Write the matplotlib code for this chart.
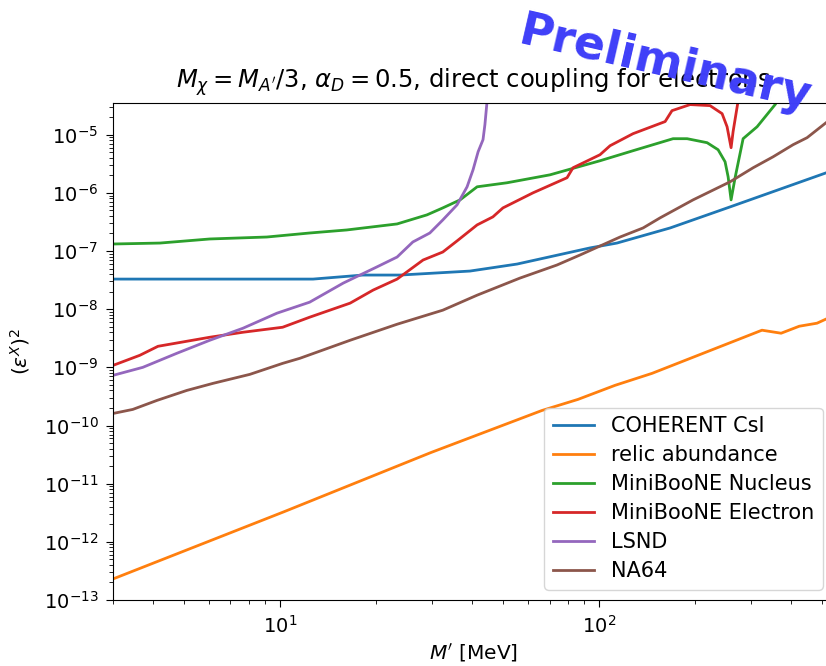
import numpy as np
import matplotlib
matplotlib.use("Agg")
import matplotlib.pyplot as plt

plt.rcParams['font.size'] = 14
plt.rcParams['xtick.major.size'] = 5
plt.rcParams['ytick.major.size'] = 5
plt.rcParams['xtick.minor.size'] = 3
plt.rcParams['ytick.minor.size'] = 3
plt.rcParams['xtick.major.pad'] = 5.5
plt.rcParams['ytick.major.pad'] = 5.5

# mass grid points (MeV) and (eps^X)^2 limits for each experiment
coherent_m = [3.0, 12.7, 18.2, 23.8, 39.4, 55.4, 93.7, 113.8, 167, 257.6, 515]
coherent_eps = [3.29e-8, 3.29e-8, 3.86e-8, 3.86e-8, 4.52e-8, 5.97e-8, 1.13e-7,
                1.37e-7, 2.49e-7, 5.74e-7, 2.21e-6]

relic_m = [3.0, 10.3, 29.7, 66.2, 85.9, 112.2, 146.6, 324, 372, 424, 482, 530]
relic_eps = [2.30e-13, 3.29e-12, 3.42e-11, 1.81e-10, 2.81e-10, 4.90e-10, 7.88e-10,
             4.35e-9, 3.86e-9, 5.09e-9, 5.74e-9, 7.28e-9]

mb_nucleus_m = [3.0, 4.21, 6.03, 9.10, 12.4, 16.2, 23.3, 28.9, 32.4, 36.7, 41.5, 51.5,
                70.2, 100.7, 127.8, 170.6, 188.8, 218.1, 236.1, 248.3, 253.8, 259.3,
                266.9, 282.8, 312.9, 356.2]
mb_nucleus_eps = [1.32e-7, 1.37e-7, 1.61e-7, 1.74e-7, 2.04e-7, 2.30e-7, 2.92e-7,
                  4.18e-7, 5.51e-7, 7.57e-7, 1.27e-6, 1.49e-6, 2.04e-6, 3.56e-6,
                  5.30e-6, 8.53e-6, 8.53e-6, 7.28e-6, 5.51e-6, 3.42e-6, 1.89e-6,
                  7.57e-7, 1.82e-6, 8.53e-6, 1.37e-5, 3.29e-5]

mb_electron_m = [3.0, 3.64, 4.15, 6.03, 7.66, 10.2, 12.4, 16.6, 19.6, 23.3, 28.1, 32.4,
                 35.9, 41.5, 46.5, 50.0, 62.1, 79.4, 82.9, 100.7, 108.3, 127.8, 161.1,
                 169.3, 192.9, 222.8, 243.0, 251.9, 259.3, 263.1, 275.0]
mb_electron_eps = [1.08e-9, 1.61e-9, 2.30e-9, 3.29e-9, 4.01e-9, 4.89e-9, 7.28e-9,
                   1.27e-8, 2.13e-8, 3.29e-8, 7.00e-8, 9.61e-8, 1.49e-7, 2.81e-7,
                   3.86e-7, 5.51e-7, 1.0e-6, 1.82e-6, 2.70e-6, 4.52e-6, 6.46e-6,
                   1.04e-5, 1.68e-5, 2.59e-5, 3.29e-5, 3.16e-5, 2.30e-5, 1.37e-5,
                   5.97e-6, 1.13e-5, 5.0e-5]

lsnd_m = [3.0, 3.72, 4.75, 6.03, 7.66, 9.79, 12.4, 15.8, 20.1, 23.3, 26.1, 29.5, 32.4,
          35.9, 38.6, 40.3, 41.8, 43.3, 43.9, 44.8]
lsnd_eps = [7.28e-10, 1.0e-9, 1.74e-9, 2.92e-9, 4.70e-9, 8.53e-9, 1.32e-8, 2.81e-8,
            5.30e-8, 7.88e-8, 1.43e-7, 2.04e-7, 3.42e-7, 6.21e-7, 1.27e-6, 2.49e-6,
            5.09e-6, 8.20e-6, 1.49e-5, 5.0e-5]

na64_m = [3.0, 3.46, 4.12, 5.11, 6.17, 8.05, 10.2, 11.55, 16.6, 23.3, 32.4, 41.5, 56.5,
          73.8, 87.2, 116.4, 137.4, 155.3, 197.1, 257.5, 304.0, 351.2, 405.7, 448.7,
          514.8]
na64_eps = [1.61e-10, 1.89e-10, 2.70e-10, 4.01e-10, 5.30e-10, 7.57e-10, 1.17e-9,
            1.43e-9, 2.92e-9, 5.51e-9, 9.61e-9, 1.74e-8, 3.42e-8, 5.74e-8, 8.54e-8,
            1.74e-7, 2.49e-7, 3.71e-7, 7.57e-7, 1.55e-6, 2.70e-6, 4.17e-6, 6.73e-6,
            8.88e-6, 1.61e-5]

fig = plt.figure(figsize=(8.26, 6.66), dpi=100)
# axes runs a little past the right edge of the canvas
ax = fig.add_axes([0.1368, 0.0991, 0.8717, 0.7462])

ax.plot(coherent_m, coherent_eps, lw=2, label='COHERENT CsI')
ax.plot(relic_m, relic_eps, lw=2, label='relic abundance')
ax.plot(mb_nucleus_m, mb_nucleus_eps, lw=2, label='MiniBooNE Nucleus')
ax.plot(mb_electron_m, mb_electron_eps, lw=2, label='MiniBooNE Electron')
ax.plot(lsnd_m, lsnd_eps, lw=2, label='LSND')
ax.plot(na64_m, na64_eps, lw=2, label='NA64')

ax.set_xscale('log')
ax.set_yscale('log')
ax.set_xlim(3, 541)
ax.set_ylim(1e-13, 3.5e-5)

ax.set_xlabel(r"$M'$ [MeV]", fontsize=14.5)
ax.set_ylabel(r'$(\varepsilon^X)^2$', fontsize=14.5, labelpad=8)
ax.set_title(r"$M_\chi = M_{A'}/3$, $\alpha_D = 0.5$, direct coupling for electrons",
             fontsize=17.5, pad=11)
ax.legend(loc='lower right', fontsize=15, labelspacing=0.43)

# watermark
fig.text(0.805, 0.9025, 'Preliminary', fontsize=33, fontweight='bold',
         color='#3f3ff8', rotation=-13, ha='center', va='center')

fig.savefig('out.png', dpi=100)
